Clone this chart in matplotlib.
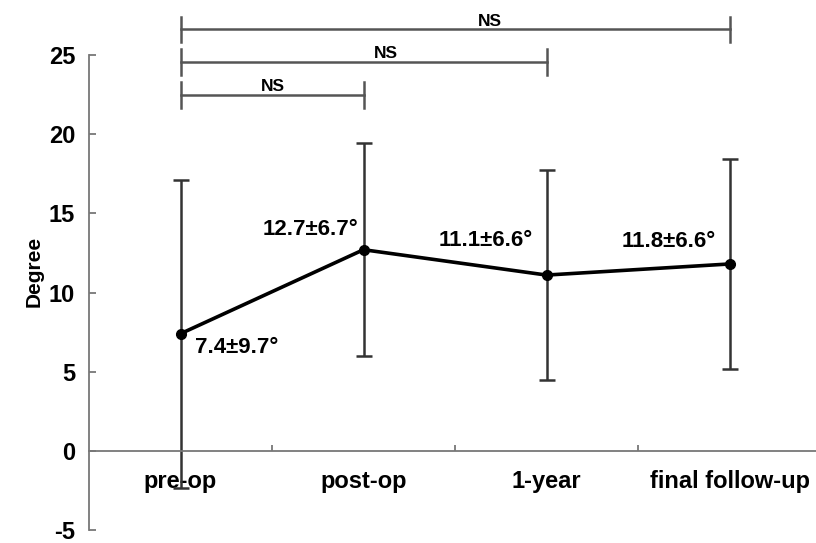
import matplotlib
matplotlib.use("Agg")
import matplotlib.pyplot as plt

# data
groups = ["pre-op", "post-op", "1-year", "final follow-up"]
means = [7.4, 12.7, 11.1, 11.8]
sds = [9.7, 6.7, 6.6, 6.6]
labels = ["7.4\u00b19.7\u00b0", "12.7\u00b16.7\u00b0", "11.1\u00b16.6\u00b0", "11.8\u00b16.6\u00b0"]
yticks = [-5, 0, 5, 10, 15, 20, 25]
# (from, to, height) of the NS brackets
brackets = [(0, 1, 22.45), (0, 2, 24.55), (0, 3, 26.6)]
ns_x = [0.505, 1.12, 1.69]

plt.rcParams['font.family'] = ['Liberation Sans', 'DejaVu Sans']
plt.rcParams['font.weight'] = 'bold'
plt.rcParams['axes.unicode_minus'] = False

fig = plt.figure(figsize=(8.16, 5.43), dpi=100)
ax = fig.add_axes([89/816, 0, 727/816, 1])

x = list(range(len(groups)))
ax.errorbar(x, means, yerr=sds, fmt='none', ecolor='#333333', elinewidth=1.8,
            capsize=6, capthick=1.8, zorder=2)
ax.plot(x, means, color='black', lw=2.6, marker='o', ms=7, zorder=3)

# value labels
ax.text(0.08, 6.5, labels[0], fontsize=16, fontweight='bold', ha='left', va='center')
ax.text(0.97, 14.0, labels[1], fontsize=16, fontweight='bold', ha='right', va='center')
ax.text(1.67, 13.3, labels[2], fontsize=16, fontweight='bold', ha='center', va='center')
ax.text(2.67, 13.2, labels[3], fontsize=16, fontweight='bold', ha='center', va='center')

# significance brackets
for (a, b, h), tx in zip(brackets, ns_x):
    ax.plot([a, b], [h, h], color='#555555', lw=1.8, clip_on=False)
    for e in (a, b):
        ax.plot([e, e], [h - 0.8, h + 0.8], color='#555555', lw=1.8, clip_on=False)
    ax.text(tx, h + 0.05, "NS", fontsize=12.5, fontweight='bold', ha='center', va='bottom')

ax.set_xlim(-0.5, 727/183 - 0.5)
ax.set_ylim(-5.8, 28.45)

ax.spines['top'].set_visible(False)
ax.spines['right'].set_visible(False)
ax.spines['left'].set_bounds(-5, 25)
ax.spines['left'].set_color('#777777')
ax.spines['left'].set_linewidth(1.3)
ax.spines['bottom'].set_position(('data', 0))
ax.spines['bottom'].set_color('#777777')
ax.spines['bottom'].set_linewidth(1.3)

ax.set_yticks(yticks)
ax.set_yticklabels([str(v) for v in yticks], fontsize=17, fontweight='bold')
ax.tick_params(axis='y', direction='in', length=5, width=1.3, color='#777777', pad=10)

ax.set_xticks(x)
ax.set_xticklabels(groups, fontsize=17, fontweight='bold')
ax.tick_params(axis='x', length=0, pad=14)
ax.set_xticks([0.5, 1.5, 2.5], minor=True)
ax.tick_params(axis='x', which='minor', direction='in', length=4, width=1.3, color='#777777')

ax.set_ylabel("Degree", fontsize=15, fontweight='bold', labelpad=4)

fig.savefig("out.png", dpi=100)
